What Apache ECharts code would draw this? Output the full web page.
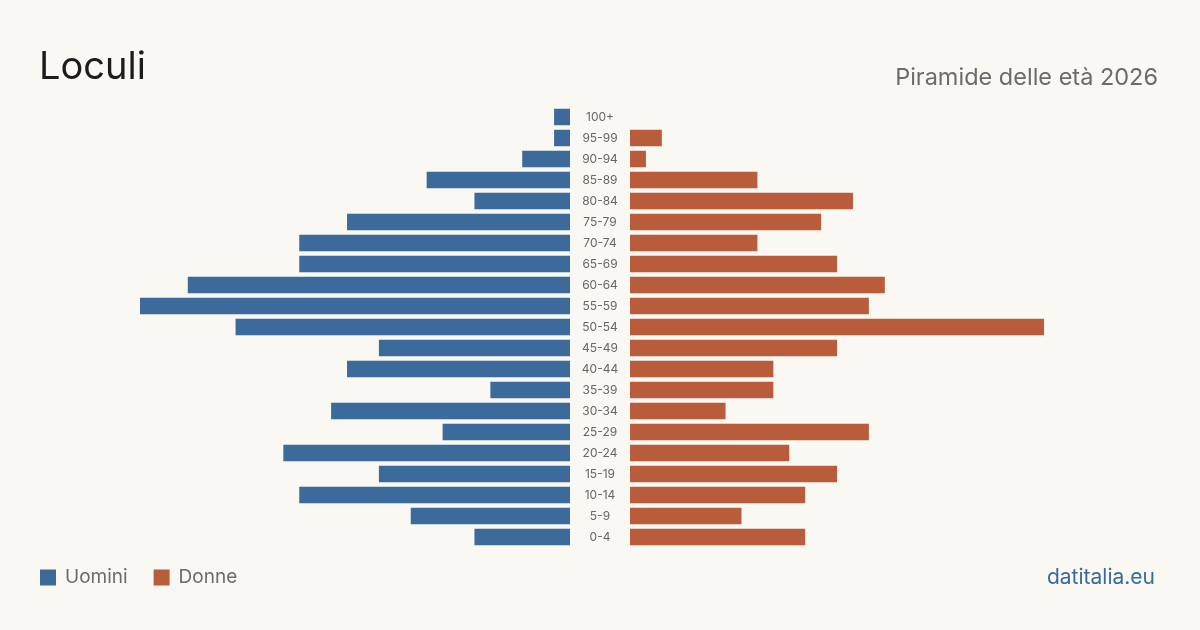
<!DOCTYPE html>
<html>
<head>
<meta charset="utf-8">
<script src="https://cdn.jsdelivr.net/npm/echarts@6/dist/echarts.min.js"></script>
<style>
html,body{margin:0;padding:0;background:#f9f8f3;}
#c{width:1200px;height:630px;}
</style>
</head>
<body>
<div id="c"></div>
<script>
const categories = ['0-4','5-9','10-14','15-19','20-24','25-29','30-34','35-39','40-44','45-49','50-54','55-59','60-64','65-69','70-74','75-79','80-84','85-89','90-94','95-99','100+'];
const uomini = [6,10,17,12,18,8,15,5,14,12,21,27,24,17,17,14,6,9,3,1,1];
const donne  = [11,7,11,13,10,15,6,9,9,13,26,15,16,13,8,12,14,8,1,2,0];
const maxVal = 27;

const FONT = 'Inter, "Noto Sans", sans-serif';
const chart = echarts.init(document.getElementById('c'));
chart.setOption({
  backgroundColor: '#f9f8f3',
  animation: false,
  title: [
    {text: 'Loculi', left: 34, top: 44, textStyle: {fontFamily: FONT, fontSize: 38, fontWeight: 'normal', color: '#1c1c1c'}},
    {text: 'Piramide delle età 2026', right: 37, top: 61, textStyle: {fontFamily: FONT, fontSize: 23.5, fontWeight: 'normal', color: '#6b6b6b'}},
    {text: 'datitalia.eu', right: 40, top: 562, textStyle: {fontFamily: FONT, fontSize: 21, fontWeight: 'normal', color: '#3b6a9b'}}
  ],
  legend: {
    left: 40, top: 568, padding: 0, itemWidth: 16, itemHeight: 16, itemGap: 26,
    icon: 'rect',
    textStyle: {fontFamily: FONT, fontSize: 19, color: '#6b6b6b', padding: [0,0,0,4]},
    data: ['Uomini','Donne']
  },
  grid: [
    {left: 140, width: 430, top: 106.5, height: 441},
    {left: 630, width: 430, top: 106.5, height: 441}
  ],
  xAxis: [
    {gridIndex: 0, type: 'value', inverse: true, min: 0, max: maxVal, show: false},
    {gridIndex: 1, type: 'value', min: 0, max: maxVal, show: false}
  ],
  yAxis: [
    {gridIndex: 0, type: 'category', data: categories, position: 'right',
     axisLine: {show: false}, axisTick: {show: false}, splitLine: {show: false},
     axisLabel: {margin: 30, align: 'center', fontFamily: FONT, fontSize: 12, color: '#666'}},
    {gridIndex: 1, type: 'category', data: categories, show: false}
  ],
  series: [
    {name: 'Uomini', type: 'bar', xAxisIndex: 0, yAxisIndex: 0, data: uomini, barWidth: 16.5, itemStyle: {color: '#3b6a9b'}},
    {name: 'Donne', type: 'bar', xAxisIndex: 1, yAxisIndex: 1, data: donne, barWidth: 16.5, itemStyle: {color: '#b95c3c'}}
  ]
});
</script>
</body>
</html>
